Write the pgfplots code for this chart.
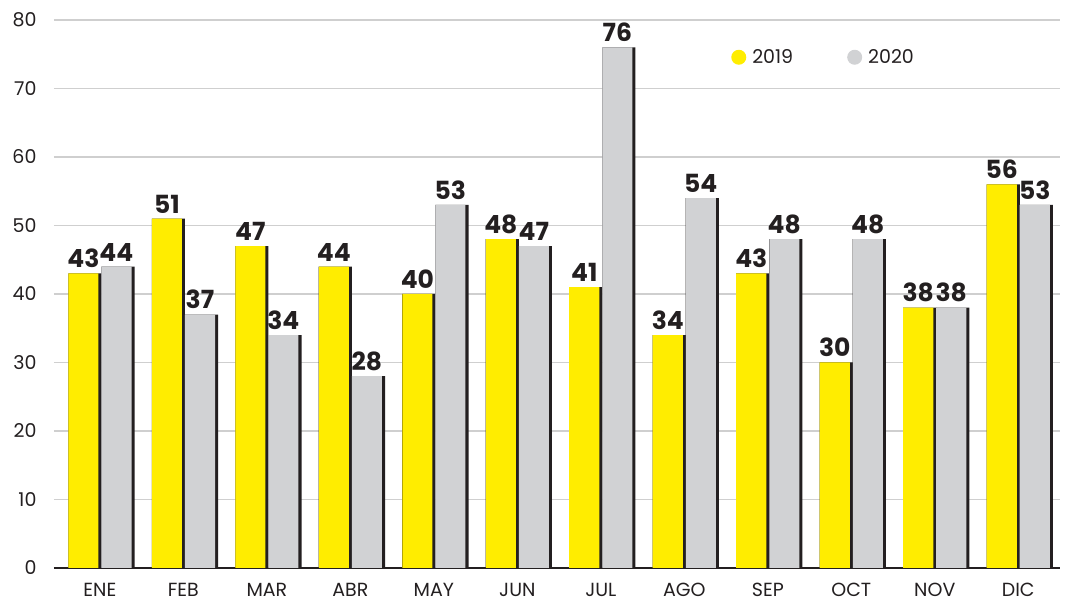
\documentclass[border=0pt]{standalone}
\usepackage{pgfplots}
\pgfplotsset{compat=1.18}
\usepackage{fontspec}
\setmainfont{Poppins}
\definecolor{yel}{HTML}{FFED00}
\definecolor{gry}{HTML}{D1D2D4}
\definecolor{drk}{HTML}{231F20}
\definecolor{gridc}{HTML}{CFCFCF}
\begin{document}
\begin{tikzpicture}
\begin{axis}[name=ax, scale only axis, width=1006pt, height=548pt,
  xmin=-0.55, xmax=11.5, ymin=0, ymax=80,
  ytick={0,10,...,80}, xtick={0,...,11},
  xticklabels={ENE,FEB,MAR,ABR,MAY,JUN,JUL,AGO,SEP,OCT,NOV,DIC},
  axis x line*=bottom, axis y line*=left,
  x axis line style={draw=drk, line width=2.5pt, -},
  y axis line style={draw=none},
  major tick length=0pt,
  ymajorgrids, grid style={draw=gridc, line width=1.3pt},
  tick label style={font=\fontsize{19}{19}\selectfont, text=drk},
  /pgf/number format/assume math mode=true,
  yticklabel style={xshift=-14pt},
  xticklabel style={yshift=-12pt},
  legend style={at={(0.765,0.932)}, anchor=center, draw=none, fill=none,
    font=\fontsize{19}{19}\selectfont, text=drk,
    /tikz/every even column/.append style={column sep=52pt}},
  legend columns=2,
  every node near coord/.append style={font=\bfseries\fontsize{25}{25}\selectfont, text=drk, yshift=2pt},
]
\addplot[ybar, bar width=0.398, bar shift=-0.18, fill=drk, draw=none, forget plot] coordinates {(0,43)(1,51)(2,47)(3,44)(4,40)(5,48)(6,41)(7,34)(8,43)(9,30)(10,38)(11,56)};
\addplot[ybar, bar width=0.398, bar shift=0.216, fill=drk, draw=none, forget plot] coordinates {(0,44)(1,37)(2,34)(3,28)(4,53)(5,47)(6,76)(7,54)(8,48)(9,48)(10,38)(11,53)};
\addplot[ybar, bar width=0.361, bar shift=-0.198, fill=yel, draw=none, nodes near coords,
  every node near coord/.append style={xshift=-16.5pt},
  legend image code/.code={\fill[yel] (0pt,0pt) circle (7.5pt);}] coordinates {(0,43)(1,51)(2,47)(3,44)(4,40)(5,48)(6,41)(7,34)(8,43)(9,30)(10,38)(11,56)};
\addplot[ybar, bar width=0.361, bar shift=0.198, fill=gry, draw=none, nodes near coords,
  every node near coord/.append style={xshift=16.5pt},
  legend image code/.code={\fill[gry] (0pt,0pt) circle (7.5pt);}] coordinates {(0,44)(1,37)(2,34)(3,28)(4,53)(5,47)(6,76)(7,54)(8,48)(9,48)(10,38)(11,53)};
\legend{\hspace{4pt}2019,\hspace{4pt}2020}
\end{axis}
\pgfresetboundingbox
\path ([xshift=-54pt,yshift=-36pt]ax.south west) rectangle ([xshift=12pt,yshift=20pt]ax.north east);
\end{tikzpicture}
\end{document}
